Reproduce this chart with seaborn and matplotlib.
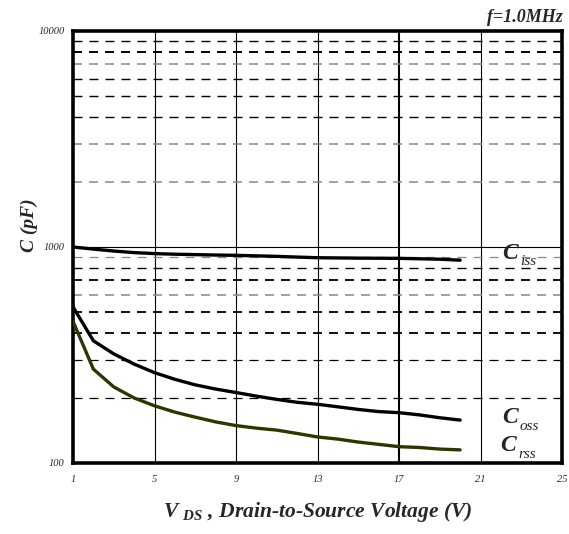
import numpy as np
import pandas as pd
import matplotlib
matplotlib.use("Agg")
import matplotlib.pyplot as plt
import seaborn as sns

# ---- data ----
vds = [1, 2, 3, 4, 5, 6, 7, 8, 9, 10, 11, 12, 13, 14, 15, 16, 17, 18, 19, 20]
ciss = [1000, 978, 958, 942, 932, 926, 922, 918, 915, 910, 905, 898, 892, 890, 888, 887, 886, 882, 878, 869]
coss = [528, 368, 320, 287, 262, 244, 230, 220, 212, 204, 197, 191, 187, 182, 177, 173, 171, 167, 162, 158]
crss = [453, 272, 225, 200, 184, 172, 163, 155, 149, 145, 142, 137, 132, 129, 125, 122, 119, 118, 116, 115]
x_ticks = [1, 5, 9, 13, 17, 21, 25]
y_ticks = [100, 1000, 10000]
y_ticklabels = ["100", "1000", "10000"]

sns.set_style("white")
plt.rcParams["font.family"] = ["Liberation Serif", "DejaVu Serif"]
plt.rcParams["mathtext.fontset"] = "custom"
plt.rcParams["mathtext.bf"] = "Liberation Serif:bold:italic"
plt.rcParams["mathtext.it"] = "Liberation Serif:italic"
plt.rcParams["mathtext.rm"] = "Liberation Serif:bold:italic"

fig = plt.figure(figsize=(5.69, 5.34), dpi=100)
ax = fig.add_axes([73/569, 71/534, (562-73)/569, (463-31)/534])

df = pd.DataFrame({"vds": vds, "ciss": ciss, "coss": coss, "crss": crss})

ax.set_yscale("log")
ax.set_xlim(1, 25)
ax.set_ylim(100, 10000)

# grid: vertical solid lines
for xv in x_ticks[1:-1]:
    ax.axvline(xv, color="black", lw=1.5 if xv == 17 else 0.8, zorder=1)
ax.axhline(1000, color="black", lw=0.8, zorder=1)

# dashed minor horizontal lines
minor_style = {
    200: ("black", 0.9), 300: ("black", 0.9), 400: ("black", 1.3), 500: ("black", 1.3),
    600: ("#888888", 1.1), 700: ("black", 1.3), 800: ("black", 1.0), 900: ("#888888", 0.9),
    2000: ("#888888", 1.1), 3000: ("#888888", 1.1), 4000: ("black", 1.0), 5000: ("black", 1.0),
    6000: ("black", 1.0), 7000: ("#888888", 1.1), 8000: ("black", 1.4), 9000: ("black", 1.0),
}
for yv, (c, w) in minor_style.items():
    ln = ax.axhline(yv, color=c, lw=w, zorder=1)
    ln.set_dashes((9 * 0.72 / w, 7 * 0.72 / w))

sns.lineplot(data=df, x="vds", y="ciss", ax=ax, color="black", lw=2.4, zorder=3)
sns.lineplot(data=df, x="vds", y="coss", ax=ax, color="black", lw=2.4, zorder=3)
sns.lineplot(data=df, x="vds", y="crss", ax=ax, color="#333300", lw=2.4, zorder=3)

for s in ax.spines.values():
    s.set_visible(True)
    s.set_color("black")
    s.set_linewidth(2.6)

ax.set_xticks(x_ticks)
ax.set_xticklabels([str(v) for v in x_ticks], fontsize=7.5, style="italic")
ax.set_yticks(y_ticks)
ax.set_yticklabels(y_ticklabels, fontsize=7.5, style="italic")
ax.yaxis.set_minor_locator(matplotlib.ticker.NullLocator())
ax.tick_params(axis="y", length=0, pad=6)
ax.tick_params(axis="x", length=0, pad=9)

ax.set_xlabel(r"$\mathbf{V}\ _{\mathbf{DS}}$ , Drain-to-Source Voltage (V)",
              fontsize=15.5, fontweight="bold", style="italic", labelpad=11)
ax.set_ylabel("C (pF)", fontsize=14, fontweight="bold", style="italic")
ax.yaxis.set_label_coords(-0.072, 0.55)

fig.text(563/569, 1 - 22/534, "f=1.0MHz", ha="right", va="baseline",
         fontsize=13, fontweight="bold", style="italic")

# curve labels
def clabel(x, y, sub):
    ax.text(x, y, "C", fontsize=17, fontweight="bold", style="italic", va="center", ha="left", zorder=4)
    ax.annotate(sub, xy=(x, y), xytext=(13, -6), textcoords="offset points",
                fontsize=11, style="italic", va="center", ha="left", zorder=4)

clabel(22.05, 937, "iss")
clabel(22.05, 162, "oss")
clabel(21.95, 120, "rss")

fig.savefig("out.png", dpi=100)
